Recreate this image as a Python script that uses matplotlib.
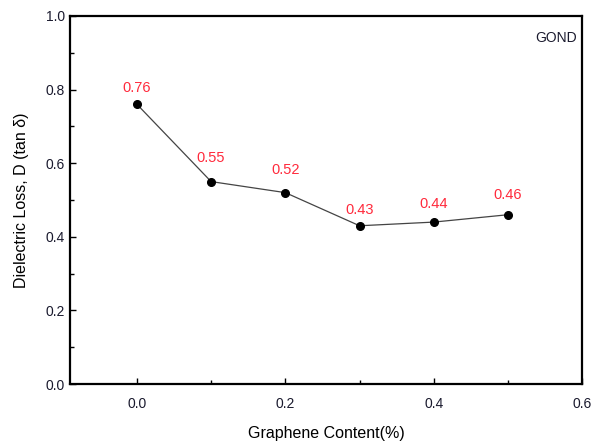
import numpy as np
import matplotlib.pyplot as plt
from matplotlib.ticker import MultipleLocator

plt.rcParams['font.family'] = ['Liberation Sans', 'DejaVu Sans']

# graphene loading (%) and dielectric loss tan delta
graphene = [0.0, 0.1, 0.2, 0.3, 0.4, 0.5]
tan_d = [0.76, 0.55, 0.52, 0.43, 0.44, 0.46]
labels = ['0.76', '0.55', '0.52', '0.43', '0.44', '0.46']
# how far each value label sits above its point (points)
lift = [12, 17, 16, 11, 13, 14]

fig = plt.figure(figsize=(5.99, 4.41), dpi=100)
ax = fig.add_axes([0.117, 0.129, 0.855, 0.835])

ax.plot(graphene, tan_d, color='#444444', lw=0.9, marker='o',
        ms=5.5, mfc='black', mec='black')
for x, y, s, d in zip(graphene, tan_d, labels, lift):
    ax.annotate(s, (x, y), xytext=(0, d), textcoords='offset points',
                ha='center', va='center', color='#ff2a3c', fontsize=10.5)

ax.text(0.99, 0.94, 'GOND', transform=ax.transAxes, ha='right', va='center',
        fontsize=10, color='#1a1a2e')

ax.set_xlim(-0.09, 0.6)
ax.set_ylim(0.0, 1.0)
ax.xaxis.set_major_locator(MultipleLocator(0.2))
ax.xaxis.set_minor_locator(MultipleLocator(0.1))
ax.yaxis.set_major_locator(MultipleLocator(0.2))
ax.yaxis.set_minor_locator(MultipleLocator(0.1))
ax.xaxis.set_major_formatter(plt.FuncFormatter(lambda v, p: '%.1f' % v))
ax.yaxis.set_major_formatter(plt.FuncFormatter(lambda v, p: '%.1f' % v))

ax.tick_params(which='both', direction='in', top=False, right=False,
               labelsize=10, labelcolor='#1a1a2e')
ax.tick_params(which='major', length=4, width=1)
ax.tick_params(which='minor', length=3, width=1)
ax.tick_params(axis='x', pad=9)
for sp in ax.spines.values():
    sp.set_linewidth(1.6)

ax.set_xlabel('Graphene Content(%)', fontsize=11.5, labelpad=11)
ax.set_ylabel('Dielectric Loss, D (tan δ)', fontsize=11.5, labelpad=12)

fig.savefig('out.png', dpi=100)
